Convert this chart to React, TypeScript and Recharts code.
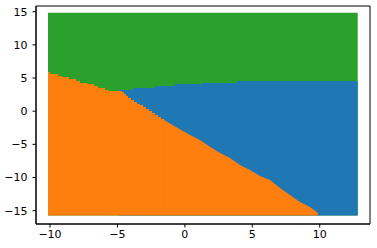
import { Area, ComposedChart, ReferenceArea, XAxis, YAxis } from "recharts";

const xTicks = [-10, -5, 0, 5, 10];
const yTicks = [-15, -10, -5, 0, 5, 10, 15];

// bottom edge of the grid of classified points
const gridBottom = -15.72;

// green region (top class)
const greenX = [-10.15, 12.82];
const greenTop = [14.85, 14.85];

// blue region, its upper edge is the green region's lower edge
const blueX = [-4.88, -3.85, -2.22, -0.73, 1.27, 3.87, 12.82];
const blueTop = [3.2, 3.5, 3.8, 4.1, 4.25, 4.57, 4.57];

// orange region, stair part on the left
const orangeStepX = [
  -10.15, -10.0, -9.41, -9.11, -8.6, -8.07, -7.78, -7.26, -6.74, -6.44, -5.92, -5.7, -4.66, -4.51,
  -4.36, -4.22, -3.99, -3.77, -3.55, -3.33, -3.1, -2.88, -2.66, -2.44, -2.22, -1.99, -1.77, -1.55,
];
const orangeStepTop = [
  5.91, 5.61, 5.31, 5.16, 4.86, 4.55, 4.25, 4.1, 3.8, 3.5, 3.2, 3.05, 2.89, 2.59, 2.29, 1.99, 1.69,
  1.39, 1.09, 0.93, 0.63, 0.33, 0.03, -0.27, -0.57, -0.87, -1.18, -1.33,
];

// orange region, diagonal part on the right
const orangeSlopeX = [
  -1.55, -0.66, 0.38, 1.12, 1.86, 2.61, 3.35, 4.09, 4.83, 5.57, 6.31, 7.06, 7.8, 8.54, 9.28, 9.87,
];
const orangeSlopeTop = [
  -1.33, -2.38, -3.59, -4.34, -5.35, -6.3, -7.06, -8.11, -8.87, -9.77, -10.37, -11.58, -12.64,
  -13.69, -14.44, -15.35,
];

const seriesKeys = ["green", "blue", "orangeStep", "orangeSlope"];
const seriesSource: [string, number[], number[]][] = [
  ["green", greenX, greenTop],
  ["blue", blueX, blueTop],
  ["orangeStep", orangeStepX, orangeStepTop],
  ["orangeSlope", orangeSlopeX, orangeSlopeTop],
];

const rowsByX = new Map<number, Record<string, number | null>>();
for (const [key, xs, ys] of seriesSource) {
  xs.forEach((x, i) => {
    let row = rowsByX.get(x);
    if (!row) {
      row = { x };
      seriesKeys.forEach((k) => (row![k] = null));
      rowsByX.set(x, row);
    }
    row[key] = ys[i];
  });
}
const data = [...rowsByX.values()].sort((a, b) => (a.x as number) - (b.x as number));

const xDomain: [number, number] = [-11.04, 13.73];
const yDomain: [number, number] = [-17.01, 15.86];

const fmt = (v: number) => (v < 0 ? `\u2212${-v}` : `${v}`);

const tickStyle = { fill: "#000", fontSize: 11, fontFamily: "DejaVu Sans" };
const lineStyle = { stroke: "#000", strokeWidth: 1 };

export default function App() {
  return (
    <div style={{ position: "absolute", left: 0, top: 0 }}>
      <ComposedChart width={377} height={248} data={data} margin={{ top: 6, right: 7, bottom: 0, left: 0 }}>
        <XAxis
          dataKey="x"
          type="number"
          domain={xDomain}
          allowDataOverflow
          ticks={xTicks}
          interval={0}
          tickFormatter={fmt}
          height={24}
          tickSize={3.5}
          tickMargin={3}
          tick={tickStyle}
          axisLine={lineStyle}
          tickLine={lineStyle}
        />
        <YAxis
          type="number"
          domain={yDomain}
          allowDataOverflow
          ticks={yTicks}
          interval={0}
          tickFormatter={fmt}
          width={36}
          tickSize={3.5}
          tickMargin={5}
          tick={tickStyle}
          axisLine={lineStyle}
          tickLine={lineStyle}
        />

        <Area
          dataKey="green"
          type="linear"
          baseValue={gridBottom}
          connectNulls
          fill="#2ca02c"
          fillOpacity={1}
          stroke="none"
          isAnimationActive={false}
        />
        <Area
          dataKey="blue"
          type="stepAfter"
          baseValue={gridBottom}
          connectNulls
          fill="#1f77b4"
          fillOpacity={1}
          stroke="none"
          isAnimationActive={false}
        />
        <Area
          dataKey="orangeStep"
          type="stepAfter"
          baseValue={gridBottom}
          connectNulls
          fill="#ff7f0e"
          fillOpacity={1}
          stroke="none"
          isAnimationActive={false}
        />
        <Area
          dataKey="orangeSlope"
          type="linear"
          baseValue={gridBottom}
          connectNulls
          fill="#ff7f0e"
          fillOpacity={1}
          stroke="none"
          isAnimationActive={false}
        />

        {/* plot frame (top and right spines) */}
        <ReferenceArea
          x1={xDomain[0]}
          x2={xDomain[1]}
          y1={yDomain[0]}
          y2={yDomain[1]}
          fill="none"
          stroke="#000"
          strokeWidth={1}
          ifOverflow="visible"
        />
      </ComposedChart>
    </div>
  );
}
